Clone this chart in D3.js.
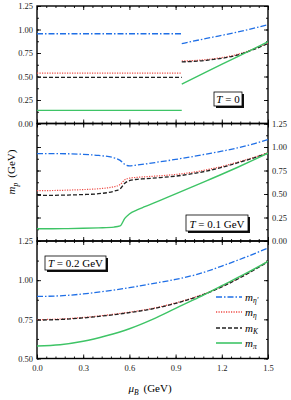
<!DOCTYPE html>
<html>
<head>
<meta charset="utf-8">
<script src="https://cdn.jsdelivr.net/npm/d3@7"></script>
<style>
  body { margin: 0; background: #fff; }
  svg { font-family: "Liberation Serif", "DejaVu Serif", serif; }
</style>
</head>
<body>
<script>
// T = 0 : flat below the transition, then a jump at mu ~ 0.94
const muT0lo = [0, 0.94];
const etapT0lo = [0.955, 0.955];
const etaT0lo = [0.535, 0.535];
const kT0lo = [0.49, 0.49];
const piT0lo = [0.14, 0.14];
const muT0hi = [0.94, 1.1, 1.3, 1.5];
const etapT0hi = [0.85, 0.905, 0.972, 1.05];
const etaT0hi = [0.665, 0.68, 0.735, 0.855];
const kT0hi = [0.655, 0.672, 0.728, 0.85];
const piT0hi = [0.42, 0.548, 0.71, 0.87];

// T = 0.1 GeV
const muT1 = [0, 0.1, 0.2, 0.3, 0.4, 0.5, 0.54, 0.57, 0.6, 0.65, 0.7, 0.8, 0.9, 1.0, 1.1, 1.2, 1.3, 1.4, 1.5];
const etapT1 = [0.93, 0.93, 0.928, 0.922, 0.91, 0.885, 0.858, 0.815, 0.80, 0.808, 0.818, 0.843, 0.868, 0.895, 0.925, 0.955, 0.99, 1.03, 1.08];
const etaT1 = [0.535, 0.537, 0.541, 0.547, 0.556, 0.578, 0.60, 0.652, 0.668, 0.677, 0.683, 0.694, 0.708, 0.728, 0.757, 0.793, 0.838, 0.885, 0.94];
const kT1 = [0.485, 0.486, 0.489, 0.494, 0.503, 0.53, 0.555, 0.615, 0.642, 0.656, 0.662, 0.675, 0.69, 0.713, 0.744, 0.783, 0.83, 0.88, 0.935];
const piT1 = [0.13, 0.13, 0.132, 0.135, 0.14, 0.148, 0.16, 0.24, 0.288, 0.33, 0.365, 0.432, 0.502, 0.57, 0.64, 0.71, 0.782, 0.857, 0.935];

// T = 0.2 GeV
const muT2 = [0, 0.15, 0.3, 0.45, 0.6, 0.75, 0.9, 1.05, 1.2, 1.35, 1.5];
const etapT2 = [0.896, 0.90, 0.912, 0.93, 0.952, 0.978, 1.005, 1.04, 1.09, 1.145, 1.205];
const etaT2 = [0.748, 0.752, 0.762, 0.777, 0.796, 0.82, 0.855, 0.90, 0.96, 1.035, 1.12];
const kT2 = [0.745, 0.749, 0.759, 0.774, 0.793, 0.817, 0.852, 0.897, 0.957, 1.032, 1.117];
const piT2 = [0.58, 0.588, 0.61, 0.645, 0.69, 0.75, 0.82, 0.89, 0.965, 1.04, 1.12];

const xTicks = [0, 0.3, 0.6, 0.9, 1.2, 1.5];
const yTicksA = [0, 0.25, 0.5, 0.75, 1.0, 1.25];
const yTicksB = [0.5, 0.75, 1.0, 1.25];
const legendNames = ["η'", "η", "K", "π"];

const W = 291, H = 400;
const L = 37, R = 268;

const styles = [
  { color: "#1f6fe6", dash: "6,2,1.5,2", w: 1.3 },
  { color: "#ee4b45", dash: "1.2,1.3", w: 1.2 },
  { color: "#222", dash: "4,2", w: 1.3 },
  { color: "#3ec466", dash: null, w: 1.4 }
];

const svg = d3.select("body").append("svg").attr("width", W).attr("height", H);

const x = d3.scaleLinear().domain([0, 1.5]).range([L, R]);
const xMinor = d3.range(0, 1.5001, 0.06);

function zip(mu, v) { return mu.map((m, i) => [m, v[i]]); }

function panel(top, bot, dom, ticks, labelSide, drawXLabels) {
  const y = d3.scaleLinear().domain(dom).range([bot, top]);
  const g = svg.append("g");
  const yMinor = d3.range(dom[0], dom[1] + 0.001, 0.125);

  // y axes on both sides, ticks inward
  const left = g.append("g").attr("transform", `translate(${L},0)`)
    .call(d3.axisLeft(y).tickValues(ticks).tickSize(-4).tickPadding(4)
      .tickFormat(labelSide === "left" ? d3.format(".2f") : ""));
  left.append("g").call(d3.axisLeft(y).tickValues(yMinor).tickSize(-2).tickFormat(""));
  const right = g.append("g").attr("transform", `translate(${R},0)`)
    .call(d3.axisRight(y).tickValues(ticks).tickSize(-4).tickPadding(4)
      .tickFormat(labelSide === "right" ? d3.format(".2f") : ""));
  right.append("g").call(d3.axisRight(y).tickValues(yMinor).tickSize(-2).tickFormat(""));

  const bottom = g.append("g").attr("transform", `translate(0,${bot})`)
    .call(d3.axisBottom(x).tickValues(xTicks).tickSize(-4).tickPadding(6)
      .tickFormat(drawXLabels ? d3.format(".1f") : ""));
  bottom.append("g").call(d3.axisBottom(x).tickValues(xMinor).tickSize(-2).tickFormat(""));
  const topAx = g.append("g").attr("transform", `translate(0,${top})`)
    .call(d3.axisTop(x).tickValues(xTicks).tickSize(-4).tickFormat(""));
  topAx.append("g").call(d3.axisTop(x).tickValues(xMinor).tickSize(-2).tickFormat(""));

  g.selectAll(".domain").remove();
  g.selectAll(".tick line").attr("stroke", "#000").attr("stroke-width", 0.9);
  g.selectAll(".tick text").attr("font-size", 8.5).attr("fill", "#222")
    .attr("font-family", "Liberation Serif");

  g.append("rect").attr("x", L).attr("y", top).attr("width", R - L).attr("height", bot - top)
    .attr("fill", "none").attr("stroke", "#000").attr("stroke-width", 1.4);

  const clip = "clip" + Math.round(top);
  g.append("clipPath").attr("id", clip).append("rect")
    .attr("x", L).attr("y", top).attr("width", R - L).attr("height", bot - top);
  const lines = g.append("g").attr("clip-path", `url(#${clip})`);
  return { y, g, lines };
}

function curve(p, pts, s) {
  const line = d3.line().x(d => x(d[0])).y(d => p.y(d[1])).curve(d3.curveMonotoneX);
  p.lines.append("path").attr("d", line(pts)).attr("fill", "none")
    .attr("stroke", s.color).attr("stroke-width", s.w)
    .attr("stroke-dasharray", s.dash);
}

function tag(p, bx, by, bw, bh, parts) {
  p.g.append("rect").attr("x", bx + 2).attr("y", by + 2).attr("width", bw).attr("height", bh).attr("fill", "#111");
  p.g.append("rect").attr("x", bx).attr("y", by).attr("width", bw).attr("height", bh)
    .attr("fill", "#fff").attr("stroke", "#000").attr("stroke-width", 0.8);
  const t = p.g.append("text").attr("x", bx + bw / 2).attr("y", by + bh - 3.5)
    .attr("text-anchor", "middle").attr("font-size", 11);
  t.append("tspan").attr("font-style", "italic").text("T");
  t.append("tspan").text(parts);
}

// panel 1: T = 0
const p1 = panel(6, 123.5, [0, 1.25], yTicksA, "left", false);
[[etapT0lo, etapT0hi], [etaT0lo, etaT0hi], [kT0lo, kT0hi], [piT0lo, piT0hi]].forEach((pair, i) => {
  curve(p1, zip(muT0lo, pair[0]), styles[i]);
  curve(p1, zip(muT0hi, pair[1]), styles[i]);
});
tag(p1, 214, 92, 28, 14, " = 0");

// panel 2: T = 0.1 GeV
const p2 = panel(123.5, 241, [0, 1.25], yTicksA, "right", false);
[etapT1, etaT1, kT1, piT1].forEach((v, i) => curve(p2, zip(muT1, v), styles[i]));
tag(p2, 186, 215, 62, 16, " = 0.1 GeV");

// panel 3: T = 0.2 GeV
const p3 = panel(241, 358.5, [0.5, 1.25], yTicksB, "left", true);
[etapT2, etaT2, kT2, piT2].forEach((v, i) => curve(p3, zip(muT2, v), styles[i]));
tag(p3, 45, 256, 61, 14, " = 0.2 GeV");

// legend
const legY = [297, 312, 328, 343];
legendNames.forEach((n, i) => {
  const s = styles[i];
  svg.append("line").attr("x1", 216).attr("x2", 242).attr("y1", legY[i]).attr("y2", legY[i])
    .attr("stroke", s.color).attr("stroke-width", s.w + 0.2).attr("stroke-dasharray", s.dash);
  const t = svg.append("text").attr("x", 245).attr("y", legY[i] + 3.5).attr("font-size", 11);
  t.append("tspan").attr("font-style", "italic").text("m");
  t.append("tspan").attr("font-size", 7.5).attr("dy", 2.5).attr("font-style", "italic").text(n);
});

// axis titles
const yl = svg.append("text").attr("transform", "translate(15,172) rotate(-90)")
  .attr("text-anchor", "middle").attr("font-size", 11);
yl.append("tspan").attr("font-style", "italic").text("m");
yl.append("tspan").attr("font-size", 7.5).attr("dy", 2.5).attr("font-style", "italic").text("p");
yl.append("tspan").attr("dy", -2.5).attr("dx", 5).text("(GeV)");

const xl = svg.append("text").attr("x", 150).attr("y", 392)
  .attr("text-anchor", "middle").attr("font-size", 11);
xl.append("tspan").attr("font-style", "italic").text("μ");
xl.append("tspan").attr("font-size", 7.5).attr("dy", 2.5).attr("font-style", "italic").text("B");
xl.append("tspan").attr("dy", -2.5).attr("dx", 5).text("(GeV)");
</script>
</body>
</html>
